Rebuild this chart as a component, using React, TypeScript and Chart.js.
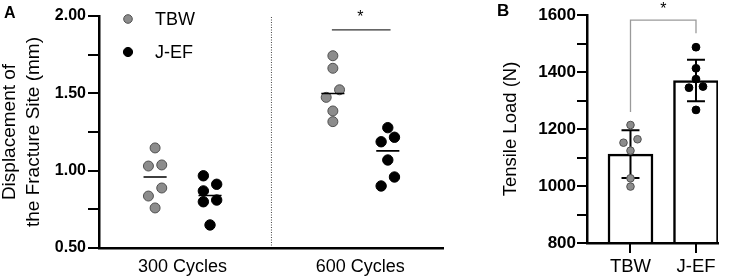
import React, { useEffect, useRef } from 'react';
import { Chart, registerables } from 'chart.js';

Chart.register(...registerables);

const FONT = "'Liberation Sans', Arial, Helvetica, sans-serif";

// ---------- Panel A data ----------
const cyclesCategories = ['300 Cycles', '600 Cycles'];
const seriesNames = ['TBW', 'J-EF'];
const tbw300 = [1.147, 1.03, 1.037, 0.888, 0.836, 0.759];
const tbw300Jitter = [0, -1, 1, 1, -1, 0];
const jef300 = [0.967, 0.912, 0.869, 0.81, 0.799, 0.649];
const jef300Jitter = [-1, 1, -1, 1, -1, 0];
const tbw600 = [1.743, 1.662, 1.523, 1.474, 1.386, 1.317];
const tbw600Jitter = [0, 0, 1, -1, 0, 0];
const jef600 = [1.278, 1.216, 1.187, 1.069, 0.959, 0.901];
const jef600Jitter = [0, 1, -1, 0, 1, -1];

// ---------- Panel B data ----------
const loadCategories = ['TBW', 'J-EF'];
const loadMeans = [1112, 1370];
const loadSD = [84, 73];
const tbwLoad = [1214, 1164, 1152, 1124, 1027, 998];
const tbwLoadJitter = [0, 1, -1, 0, 0, 0];
const jefLoad = [1487, 1413, 1375, 1345, 1349, 1267];
const jefLoadJitter = [0, 0, 0, -1, 1, 0];

const GRAY = '#8c8c8c';
const GRAY_BORDER = '#505050';

function median(arr: number[]) {
  const s = [...arr].sort((a, b) => a - b);
  const n = s.length;
  return n % 2 ? s[(n - 1) / 2] : (s[n / 2 - 1] + s[n / 2]) / 2;
}

function points(vals: number[], jit: number[], center: number, step: number) {
  return vals.map((v, i) => ({ x: center + jit[i] * step, y: v }));
}

const tickGrid = (len: number) => ({
  display: true,
  drawOnChartArea: false,
  drawTicks: true,
  offset: false,
  tickLength: len,
  color: '#000',
  lineWidth: 2,
});

// tick marks at the scale's own tick positions
function drawTickMarks(chart: any, axis: string, len: number) {
  const ctx = chart.ctx;
  const area = chart.chartArea;
  const sc = chart.scales[axis];
  ctx.save();
  ctx.fillStyle = '#000';
  sc.ticks.forEach((t: any) => {
    const p = Math.round(sc.getPixelForValue(t.value));
    if (axis === 'y') ctx.fillRect(area.left - len, p - 1, len, 2);
    else ctx.fillRect(p - 1, area.bottom, 2, len);
  });
  ctx.restore();
}

function configA(): any {
  const groupOff = 0.1545;
  const jitStep = 0.0375;
  const halfMed = 0.065;
  const medSeg = (vals: number[], c: number) => {
    const m = median(vals);
    return [
      { x: c - halfMed, y: m },
      { x: c + halfMed, y: m },
      { x: c, y: null },
    ];
  };
  const tbwPts = [
    ...points(tbw300, tbw300Jitter, 0 - groupOff, jitStep),
    ...points(tbw600, tbw600Jitter, 1 - groupOff, jitStep),
  ];
  const jefPts = [
    ...points(jef300, jef300Jitter, 0 + groupOff, jitStep),
    ...points(jef600, jef600Jitter, 1 + groupOff, jitStep),
  ];
  const medians = [
    ...medSeg(tbw300, 0 - groupOff),
    ...medSeg(jef300, 0 + groupOff),
    ...medSeg(tbw600, 1 - groupOff),
    ...medSeg(jef600, 1 + groupOff),
  ];

  const annotA = {
    id: 'annotA',
    afterDraw(chart: any) {
      drawTickMarks(chart, 'y', 11);
      const { ctx, chartArea, scales } = chart;
      ctx.save();
      ctx.fillStyle = '#000';
      ctx.font = `bold 16px ${FONT}`;
      ctx.textAlign = 'left';
      ctx.textBaseline = 'alphabetic';
      ctx.fillText('A', 4, 18);
      ctx.font = `16px ${FONT}`;
      ctx.textAlign = 'center';
      ctx.fillText('*', scales.x.getPixelForValue(1), 22);
      const items = [
        { label: seriesNames[0], fill: GRAY, stroke: GRAY_BORDER, r: 4.3, dy: 3 },
        { label: seriesNames[1], fill: '#000', stroke: '#000', r: 4.6, dy: 36 },
      ];
      ctx.font = `18px ${FONT}`;
      ctx.textAlign = 'left';
      ctx.textBaseline = 'middle';
      items.forEach((it) => {
        const cx = chartArea.left + 29;
        const cy = chartArea.top + it.dy;
        ctx.beginPath();
        ctx.arc(cx, cy, it.r, 0, Math.PI * 2);
        ctx.fillStyle = it.fill;
        ctx.fill();
        ctx.lineWidth = 1;
        ctx.strokeStyle = it.stroke;
        ctx.stroke();
        ctx.fillStyle = '#000';
        ctx.fillText(it.label, chartArea.left + 56, cy + 1);
      });
      ctx.restore();
    },
  };

  return {
    type: 'scatter',
    data: {
      datasets: [
        {
          type: 'line',
          label: 'median',
          data: medians,
          borderColor: '#000',
          borderWidth: 1.6,
          pointRadius: 0,
          spanGaps: false,
          order: 0,
        },
        {
          type: 'scatter',
          label: seriesNames[0],
          data: tbwPts,
          backgroundColor: GRAY,
          borderColor: GRAY_BORDER,
          borderWidth: 1,
          pointRadius: 5,
          order: 1,
        },
        {
          type: 'scatter',
          label: seriesNames[1],
          data: jefPts,
          backgroundColor: '#000',
          borderColor: '#000',
          borderWidth: 1,
          pointRadius: 5.2,
          order: 1,
        },
        {
          type: 'line',
          label: 'divider',
          data: [
            { x: 0.5, y: 0.5 },
            { x: 0.5, y: 1.995 },
          ],
          borderColor: '#444',
          borderWidth: 1,
          borderDash: [1, 1.5],
          pointRadius: 0,
          order: 2,
        },
        {
          type: 'line',
          label: 'sig',
          data: [
            { x: 0.84, y: 1.91 },
            { x: 1.17, y: 1.91 },
          ],
          borderColor: '#333',
          borderWidth: 1.3,
          pointRadius: 0,
          order: 2,
        },
      ],
    },
    options: {
      responsive: false,
      animation: false,
      events: [],
      layout: { padding: { left: 0, top: 16, right: 17, bottom: 0 } },
      plugins: { legend: { display: false }, tooltip: { enabled: false } },
      scales: {
        x: {
          type: 'linear',
          min: -0.47,
          max: 1.465,
          afterFit: (s: any) => {
            s.height = 31;
          },
          afterBuildTicks: (s: any) => {
            s.ticks = cyclesCategories.map((_, i) => ({ value: i }));
          },
          grid: { display: false, drawTicks: false },
          border: { display: true, color: '#000', width: 2.5, z: 1 },
          ticks: {
            autoSkip: false,
            maxRotation: 0,
            padding: 8,
            color: '#000',
            font: { family: FONT, size: 18 },
            callback: (v: number) => cyclesCategories[Math.round(v)] ?? '',
          },
        },
        y: {
          type: 'linear',
          min: 0.5,
          max: 2.0,
          afterFit: (s: any) => {
            s.width = 99;
          },
          grid: tickGrid(11),
          border: { display: true, color: '#000', width: 2.5, z: 1 },
          ticks: {
            stepSize: 0.25,
            autoSkip: false,
            padding: 2,
            color: '#000',
            font: { family: FONT, size: 16, weight: 'bold' },
            callback: (v: number) =>
              Math.abs(v * 2 - Math.round(v * 2)) < 1e-6 ? v.toFixed(2) : '',
          },
          title: {
            display: true,
            text: ['Displacement of', 'the Fracture Site (mm)'],
            color: '#000',
            font: { family: FONT, size: 19, lineHeight: 1.25 },
            padding: { top: -2, bottom: 0 },
          },
        },
      },
    },
    plugins: [annotA],
  };
}

function configB(): any {
  const jitStep = 0.107;
  const capHalf = 0.137;
  const errData: any[] = [];
  loadMeans.forEach((m, i) => {
    const hi = m + loadSD[i];
    const lo = m - loadSD[i];
    errData.push(
      { x: i - capHalf, y: hi },
      { x: i + capHalf, y: hi },
      { x: i, y: null },
      { x: i, y: hi },
      { x: i, y: lo },
      { x: i, y: null },
      { x: i - capHalf, y: lo },
      { x: i + capHalf, y: lo },
      { x: i, y: null }
    );
  });

  const annotB = {
    id: 'annotB',
    afterDraw(chart: any) {
      drawTickMarks(chart, 'y', 10);
      drawTickMarks(chart, 'x', 10);
      const { ctx, scales } = chart;
      ctx.save();
      ctx.fillStyle = '#000';
      ctx.font = `bold 17px ${FONT}`;
      ctx.textAlign = 'left';
      ctx.textBaseline = 'alphabetic';
      ctx.fillText('B', 37, 16);
      ctx.font = `16px ${FONT}`;
      ctx.textAlign = 'center';
      ctx.fillText('*', scales.x.getPixelForValue(0.5), 13.5);
      ctx.restore();
    },
  };

  return {
    type: 'bar',
    data: {
      datasets: [
        {
          type: 'line',
          label: 'bracket',
          data: [
            { x: 0, y: 1260 },
            { x: 0, y: 1582 },
            { x: 1, y: 1582 },
            { x: 1, y: 1536 },
          ],
          borderColor: '#9a9a9a',
          borderWidth: 1.3,
          pointRadius: 0,
          order: 0,
        },
        {
          type: 'scatter',
          label: loadCategories[0],
          data: points(tbwLoad, tbwLoadJitter, 0, jitStep),
          backgroundColor: GRAY,
          borderColor: GRAY_BORDER,
          borderWidth: 1,
          pointRadius: 3.8,
          order: 1,
        },
        {
          type: 'scatter',
          label: loadCategories[1],
          data: points(jefLoad, jefLoadJitter, 1, jitStep),
          backgroundColor: '#000',
          borderColor: '#000',
          borderWidth: 1,
          pointRadius: 3.9,
          order: 1,
        },
        {
          type: 'line',
          label: 'error',
          data: errData,
          borderColor: '#000',
          borderWidth: 2,
          pointRadius: 0,
          spanGaps: false,
          order: 2,
        },
        {
          type: 'bar',
          label: 'mean',
          data: loadMeans.map((m, i) => ({ x: i, y: m })),
          backgroundColor: '#fff',
          borderColor: '#000',
          borderWidth: 2.5,
          barThickness: 45,
          order: 3,
        },
      ],
    },
    options: {
      responsive: false,
      animation: false,
      events: [],
      layout: { padding: { left: 0, top: 15, right: 22, bottom: 0 } },
      plugins: { legend: { display: false }, tooltip: { enabled: false } },
      scales: {
        x: {
          type: 'linear',
          min: -0.664,
          max: 1.336,
          offset: false,
          afterFit: (s: any) => {
            s.height = 36;
          },
          afterBuildTicks: (s: any) => {
            s.ticks = loadCategories.map((_, i) => ({ value: i }));
          },
          grid: tickGrid(10),
          border: { display: true, color: '#000', width: 2.5, z: 1 },
          ticks: {
            autoSkip: false,
            maxRotation: 0,
            padding: 3,
            color: '#000',
            font: { family: FONT, size: 18.5 },
            callback: (v: number) => loadCategories[Math.round(v)] ?? '',
          },
        },
        y: {
          type: 'linear',
          min: 800,
          max: 1600,
          afterFit: (s: any) => {
            s.width = 127;
          },
          grid: tickGrid(10),
          border: { display: true, color: '#000', width: 2.5, z: 1 },
          ticks: {
            stepSize: 100,
            autoSkip: false,
            padding: 1,
            color: '#000',
            font: { family: FONT, size: 17, weight: 'bold' },
            callback: (v: number) => (v % 200 === 0 ? String(v) : ''),
          },
          title: {
            display: true,
            text: 'Tensile Load (N)',
            color: '#000',
            font: { family: FONT, size: 18.5, lineHeight: 1.2 },
            padding: { top: 40, bottom: 0 },
          },
        },
      },
    },
    plugins: [annotB],
  };
}

export default function App() {
  const refA = useRef<HTMLCanvasElement>(null);
  const refB = useRef<HTMLCanvasElement>(null);

  useEffect(() => {
    const a = new Chart(refA.current as HTMLCanvasElement, configA());
    const b = new Chart(refB.current as HTMLCanvasElement, configB());
    return () => {
      a.destroy();
      b.destroy();
    };
  }, []);

  return (
    <div
      style={{
        position: 'absolute',
        left: 0,
        top: 0,
        width: 740,
        height: 279,
        background: '#fff',
      }}
    >
      <canvas
        ref={refA}
        width={460}
        height={279}
        style={{ position: 'absolute', left: 0, top: 0, width: 460, height: 279 }}
      />
      <canvas
        ref={refB}
        width={280}
        height={279}
        style={{ position: 'absolute', left: 460, top: 0, width: 280, height: 279 }}
      />
    </div>
  );
}
